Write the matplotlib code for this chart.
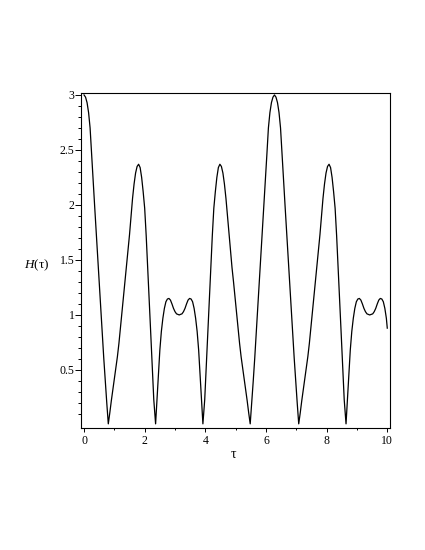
import matplotlib
matplotlib.use("Agg")
import matplotlib.pyplot as plt
from matplotlib.ticker import FixedLocator, FixedFormatter

# ---- data ----
# first stretch, 0 .. pi
tau_p1 = [0.00, 0.05, 0.10, 0.15, 0.20, 0.25, 0.30, 0.35, 0.40, 0.45,
          0.50, 0.55, 0.60, 0.65, 0.70, 0.75, 0.80, 0.85, 0.90, 0.95,
          1.00, 1.05, 1.10, 1.15, 1.20, 1.25, 1.30, 1.35, 1.40, 1.45,
          1.50, 1.55, 1.60, 1.65, 1.70, 1.75, 1.80, 1.85, 1.90, 1.95,
          2.00, 2.05, 2.10, 2.15, 2.20, 2.25, 2.30, 2.36, 2.40, 2.45,
          2.50, 2.55, 2.60, 2.65, 2.70, 2.75, 2.80, 2.85, 2.90, 2.95,
          3.00, 3.05, 3.10, 3.14]
h_p1 = [3.00, 2.98, 2.93, 2.84, 2.70, 2.46, 2.23, 1.99, 1.76, 1.53,
        1.30, 1.07, 0.84, 0.61, 0.40, 0.20, 0.01, 0.11, 0.22, 0.32,
        0.42, 0.52, 0.62, 0.74, 0.88, 1.02, 1.16, 1.30, 1.43, 1.57,
        1.73, 1.90, 2.06, 2.19, 2.29, 2.35, 2.37, 2.34, 2.25, 2.12,
        1.97, 1.72, 1.43, 1.13, 0.83, 0.53, 0.23, 0.01, 0.20, 0.44,
        0.68, 0.85, 0.97, 1.06, 1.12, 1.145, 1.15, 1.135, 1.10, 1.06,
        1.03, 1.01, 1.005, 1.00]

# second stretch, pi .. 2 pi
tau_p2 = [3.18, 3.23, 3.28, 3.33, 3.38, 3.43, 3.48, 3.53, 3.58, 3.63,
          3.68, 3.73, 3.78, 3.83, 3.88, 3.92, 3.98, 4.03, 4.08, 4.13,
          4.18, 4.23, 4.28, 4.33, 4.38, 4.43, 4.48, 4.53, 4.58, 4.63,
          4.68, 4.73, 4.78, 4.83, 4.88, 4.93, 4.98, 5.03, 5.08, 5.13,
          5.18, 5.23, 5.28, 5.33, 5.38, 5.43, 5.48, 5.53, 5.58, 5.63,
          5.68, 5.73, 5.78, 5.83, 5.88, 5.93, 5.98, 6.03, 6.08, 6.13,
          6.18, 6.23, 6.28]
h_p2 = [1.005, 1.01, 1.03, 1.06, 1.10, 1.135, 1.15, 1.145, 1.12, 1.06,
        0.97, 0.85, 0.68, 0.44, 0.20, 0.01, 0.23, 0.53, 0.83, 1.13,
        1.43, 1.72, 1.97, 2.12, 2.25, 2.34, 2.37, 2.35, 2.29, 2.19,
        2.06, 1.90, 1.73, 1.57, 1.43, 1.30, 1.16, 1.02, 0.88, 0.74,
        0.62, 0.52, 0.42, 0.32, 0.22, 0.11, 0.01, 0.20, 0.40, 0.61,
        0.84, 1.07, 1.30, 1.53, 1.76, 1.99, 2.23, 2.46, 2.70, 2.84,
        2.93, 2.98, 3.00]

# third stretch, 2 pi .. 3 pi
tau_p3 = [6.33, 6.38, 6.43, 6.48, 6.53, 6.58, 6.63, 6.68, 6.73, 6.78,
          6.83, 6.88, 6.93, 6.98, 7.03, 7.08, 7.13, 7.18, 7.23, 7.28,
          7.33, 7.38, 7.43, 7.48, 7.53, 7.58, 7.63, 7.68, 7.73, 7.78,
          7.83, 7.88, 7.93, 7.98, 8.03, 8.08, 8.13, 8.18, 8.23, 8.28,
          8.33, 8.38, 8.43, 8.48, 8.53, 8.58, 8.64, 8.68, 8.73, 8.78,
          8.83, 8.88, 8.93, 8.98, 9.03, 9.08, 9.13, 9.18, 9.23, 9.28,
          9.33, 9.38, 9.42]
h_p3 = [2.98, 2.93, 2.84, 2.70, 2.46, 2.23, 1.99, 1.76, 1.53, 1.30,
        1.07, 0.84, 0.61, 0.40, 0.20, 0.01, 0.11, 0.22, 0.32, 0.42,
        0.52, 0.62, 0.74, 0.88, 1.02, 1.16, 1.30, 1.43, 1.57, 1.73,
        1.90, 2.06, 2.19, 2.29, 2.35, 2.37, 2.34, 2.25, 2.12, 1.97,
        1.72, 1.43, 1.13, 0.83, 0.53, 0.23, 0.01, 0.20, 0.44, 0.68,
        0.85, 0.97, 1.06, 1.12, 1.145, 1.15, 1.135, 1.10, 1.06, 1.03,
        1.01, 1.005, 1.00]

# last stretch, 3 pi .. 10
tau_p4 = [9.47, 9.52, 9.57, 9.62, 9.67, 9.72, 9.77, 9.82, 9.87, 9.92,
          9.97, 10.0]
h_p4 = [1.005, 1.01, 1.03, 1.06, 1.10, 1.135, 1.15, 1.145, 1.12, 1.06,
        0.97, 0.88]

x_major = [0, 2, 4, 6, 8, 10]
x_major_labels = ["0", "2", "4", "6", "8", "10"]
x_minor = [1, 3, 5, 7, 9]
y_major = [0.5, 1.0, 1.5, 2.0, 2.5, 3.0]
y_major_labels = ["0.5", "1", "1.5", "2", "2.5", "3"]
y_minor = [0.1, 0.2, 0.3, 0.4, 0.6, 0.7, 0.8, 0.9, 1.1, 1.2, 1.3, 1.4,
           1.6, 1.7, 1.8, 1.9, 2.1, 2.2, 2.3, 2.4, 2.6, 2.7, 2.8, 2.9]

tau = tau_p1 + tau_p2 + tau_p3 + tau_p4
h = h_p1 + h_p2 + h_p3 + h_p4
assert len(tau) == len(h)

# ---- drawing ----
plt.rcParams['font.family'] = ['Liberation Serif', 'DejaVu Serif']
plt.rcParams['mathtext.fontset'] = 'custom'
plt.rcParams['mathtext.rm'] = 'Liberation Serif'
plt.rcParams['mathtext.it'] = 'Liberation Serif:italic'

fig = plt.figure(figsize=(4.25, 5.5), dpi=100)
ax = fig.add_axes([81 / 425, 1 - 427.7 / 550, (390 - 81) / 425, (427.7 - 93.3) / 550])
ax.plot(tau, h, color='black', lw=0.9)

ax.set_xlim(-0.1, 10.09)
ax.set_ylim(-0.025, 3.015)

ax.xaxis.set_major_locator(FixedLocator(x_major))
ax.xaxis.set_major_formatter(FixedFormatter(x_major_labels))
ax.xaxis.set_minor_locator(FixedLocator(x_minor))
ax.yaxis.set_major_locator(FixedLocator(y_major))
ax.yaxis.set_major_formatter(FixedFormatter(y_major_labels))
ax.yaxis.set_minor_locator(FixedLocator(y_minor))

ax.tick_params(axis='x', which='major', direction='out', length=3, width=0.7,
               labelsize=8.5, pad=2)
ax.tick_params(axis='x', which='minor', direction='out', length=1.6, width=0.7)
ax.tick_params(axis='y', which='major', direction='out', length=4, width=0.7,
               labelsize=8.5, pad=0.6)
ax.tick_params(axis='y', which='minor', direction='out', length=2.4, width=0.7)

for s in ax.spines.values():
    s.set_linewidth(0.8)

fig.text(37 / 425, 1 - 265 / 550, r'$H(\mathrm{\tau})$', fontsize=9.5,
         ha='center', va='center')
fig.text(233 / 425, 1 - 455 / 550, 'τ', fontsize=10, ha='center', va='center')

fig.savefig('out.png', dpi=100)
